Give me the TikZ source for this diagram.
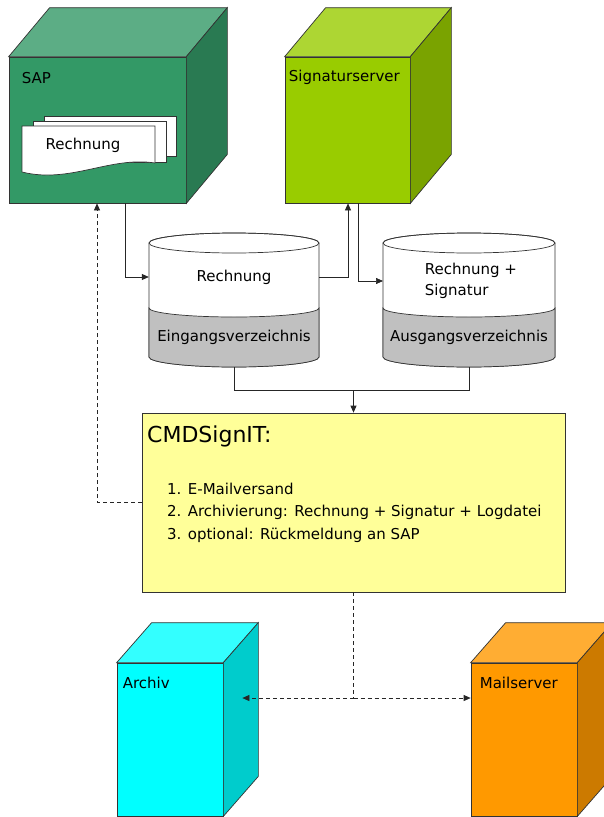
\documentclass[tikz,border=0pt]{standalone}
\usepackage{fontspec}
\setmainfont{DejaVu Sans}
\usepackage{xcolor}
\usetikzlibrary{arrows.meta}

\definecolor{sapfront}{RGB}{51,153,102}
\definecolor{saptop}{RGB}{92,173,133}
\definecolor{sapside}{RGB}{41,122,82}
\definecolor{sigfront}{RGB}{153,204,0}
\definecolor{sigtop}{RGB}{173,214,51}
\definecolor{sigside}{RGB}{122,163,0}
\definecolor{arcfront}{RGB}{0,255,255}
\definecolor{arctop}{RGB}{51,255,255}
\definecolor{arcside}{RGB}{0,204,204}
\definecolor{mailfront}{RGB}{255,153,0}
\definecolor{mailtop}{RGB}{255,173,51}
\definecolor{mailside}{RGB}{204,122,0}
\definecolor{cmdfill}{RGB}{255,255,153}
\definecolor{cylgray}{RGB}{192,192,192}

\tikzstyle{cubefront} = [rectangle, draw=black!80, line width=0.7pt, inner sep=0pt]
\tikzstyle{cubeface} = [draw=black!80, line width=0.7pt]
\tikzstyle{cubelabel} = [anchor=west, inner sep=0pt, font=\fontsize{15}{18}\selectfont]
\tikzstyle{cyltext} = [rectangle, minimum width=170, inner sep=0pt, align=center, font=\fontsize{15}{21}\selectfont]
\tikzstyle{cmdbox} = [rectangle, draw=black!80, line width=0.7pt, fill=cmdfill, inner sep=0pt]
\tikzstyle{link} = [line width=0.7pt, draw=black!85]
\tikzstyle{arrow} = [link, -{Triangle[length=7pt,width=6pt]}]
\tikzstyle{dasharrow} = [arrow, dash pattern=on 4pt off 3pt]

% front node, top colour, side colour, depth
\newcommand{\servercube}[4]{%
  \filldraw[cubeface, fill=#2] (#1.north west) -- ++(#4) -- ([shift={(#4)}]#1.north east) -- (#1.north east) -- cycle;
  \filldraw[cubeface, fill=#3] (#1.north east) -- ++(#4) -- ([shift={(#4)}]#1.south east) -- (#1.south east) -- cycle;
}

\begin{document}
\begin{tikzpicture}[x=1pt, y=-1pt]
\useasboundingbox (0,0) rectangle (604,817);
\clip (0,0) rectangle (604,817);

% servers
\node (sap) [cubefront, fill=sapfront, minimum width=177, minimum height=146] at (97.5,130) {};
\servercube{sap}{saptop}{sapside}{41,-49}
\node (saplabel) [cubelabel] at ([shift={(13,21)}]sap.north west) {SAP};

\node (sig) [cubefront, fill=sigfront, minimum width=125, minimum height=146] at (347.5,130) {};
\servercube{sig}{sigtop}{sigside}{41,-49}
\node (siglabel) [cubelabel] at ([shift={(4,21)}]sig.north west) {Signaturserver};

\node (archiv) [cubefront, fill=arcfront, minimum width=106, minimum height=153] at (170,739.5) {};
\servercube{archiv}{arctop}{arcside}{35,-40}
\node (archivlabel) [cubelabel] at ([shift={(6,20)}]archiv.north west) {Archiv};

\node (mail) [cubefront, fill=mailfront, minimum width=106, minimum height=153] at (524,739.5) {};
\servercube{mail}{mailtop}{mailside}{35,-40}
\node (maillabel) [cubelabel] at ([shift={(9,20)}]mail.north west) {Mailserver};

% document stack in SAP
\filldraw[cubeface, fill=white] (44,116) rectangle (176,156);
\filldraw[cubeface, fill=white] (33,121) rectangle (166,162);
\filldraw[cubeface, fill=white] (22,126) -- (155,126) -- (155,163) .. controls (110,156) and (70,184) .. (22,172) -- cycle;
\node (sapdoc) [cyltext, minimum width=0] at (83,145) {Rechnung};

% directories
\filldraw[cubeface, fill=white] (149,243) -- (149,357) arc[start angle=180, end angle=360, x radius=85pt, y radius=10pt] -- (319,243) arc[start angle=0, end angle=180, x radius=85pt, y radius=10pt] -- cycle;
\filldraw[cubeface, fill=cylgray] (149,308) arc[start angle=180, end angle=360, x radius=85pt, y radius=9pt] -- (319,357) arc[start angle=0, end angle=-180, x radius=85pt, y radius=10pt] -- cycle;
\draw[cubeface] (234,243) ellipse[x radius=85pt, y radius=10pt];
\node (eingang) [cyltext] at (234,277) {Rechnung};
\node (eingangverz) [cyltext, minimum height=60] at (234,337) {Eingangsverzeichnis};

\filldraw[cubeface, fill=white] (383,243) -- (383,357) arc[start angle=180, end angle=360, x radius=86pt, y radius=10pt] -- (555,243) arc[start angle=0, end angle=180, x radius=86pt, y radius=10pt] -- cycle;
\filldraw[cubeface, fill=cylgray] (383,308) arc[start angle=180, end angle=360, x radius=86pt, y radius=9pt] -- (555,357) arc[start angle=0, end angle=-180, x radius=86pt, y radius=10pt] -- cycle;
\draw[cubeface] (469,243) ellipse[x radius=86pt, y radius=10pt];
\node (ausgang) [cyltext, align=left] at (471,281) {Rechnung +\\Signatur};
\node (ausgangverz) [cyltext, minimum height=60] at (469,337) {Ausgangsverzeichnis};

% CMDSignIT
\node (cmd) [cmdbox, minimum width=423, minimum height=179] at (353.5,502.5) {};
\node (cmdtitle) [anchor=west, inner sep=0pt, font=\fontsize{22}{26}\selectfont] at (147,436) {CMDSignIT:};
\node (cmdlist) [anchor=west, inner sep=0pt, align=left, font=\fontsize{15}{22.5}\selectfont] at (167,512.5) {1. E-Mailversand\\2. Archivierung: Rechnung + Signatur + Logdatei\\3. optional: Rückmeldung an SAP};

\coordinate (merge) at (353.5,390);
\coordinate (split) at (353.5,698);
\coordinate (archivside) at ([xshift=19]archiv.east);

% connectors
\draw [arrow] ([xshift=27.5]sap.south) |- (eingang.west);
\draw [arrow] (eingang.east) -| ([xshift=0.5]sig.south);
\draw [arrow] ([xshift=10.5]sig.south) |- (ausgang.west -| 383,0);
\draw [link] (eingangverz.south) |- (merge);
\draw [link] (ausgangverz.south) |- (merge);
\draw [arrow] (merge) -- (cmd.north);
\draw [dasharrow] (cmd.west) -| ([xshift=-0.5]sap.south);
\draw [link, dash pattern=on 4pt off 3pt] (cmd.south) -- (split);
\draw [dasharrow] (split) -- (split -| archivside);
\draw [dasharrow] (split) -- (split -| mail.west);
\end{tikzpicture}
\end{document}
